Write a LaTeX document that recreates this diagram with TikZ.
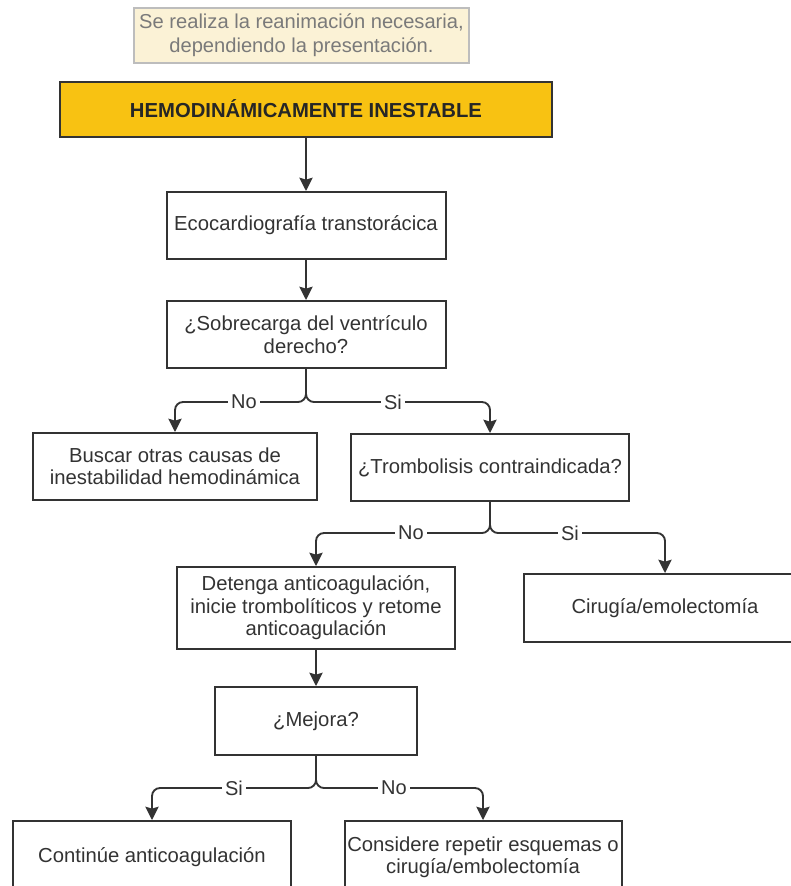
\documentclass[tikz,border=0pt]{standalone}
\usepackage{fontspec}
\setmainfont{Liberation Sans}
\usetikzlibrary{arrows.meta}
\definecolor{ink}{HTML}{333333}
\definecolor{notefill}{HTML}{FBF2D6}
\definecolor{noteline}{HTML}{BDBDBD}
\definecolor{notetext}{HTML}{7A7A7A}
\definecolor{gold}{HTML}{F8C212}
\begin{document}
\begin{tikzpicture}[x=0.75pt,y=-0.75pt,
  bx/.style 2 args={draw=ink, line width=1.5pt, fill=white, text=ink,
     minimum width=#1*0.75pt, minimum height=#2*0.75pt, inner sep=1pt,
     align=center, font=\fontsize{15.2pt}{16.8pt}\selectfont},
  conn/.style={draw=ink, line width=1.4pt, rounded corners=6pt,
     -{Stealth[length=10pt,width=10pt,inset=1.5pt]}},
  lbl/.style={fill=white, text=ink, inner sep=2.5pt,
     font=\fontsize{15pt}{17pt}\selectfont}]
\useasboundingbox (0,0) rectangle (791,886);
\clip (0,0) rectangle (791,886);

\node[bx={335}{55}, draw=noteline, fill=notefill, text=notetext,
      line width=1.2pt, font=\fontsize{15.1pt}{18pt}\selectfont]
  (note) at (301.5,35.5) {Se realiza la reanimación necesaria,\\dependiendo la presentación.};
\node[bx={492}{55}, fill=gold, text=black!85,
      font=\fontsize{15.2pt}{17pt}\selectfont\bfseries]
  (title) at (306,109) {HEMODINÁMICAMENTE INESTABLE};
\node[bx={279}{67}] (eco) at (306,225.5) {Ecocardiografía transtorácica};
\node[bx={279}{67}] (sob) at (306,334.5) {¿Sobrecarga del ventrículo\\derecho?};
\node[bx={284}{67}] (bus) at (175,466.5) {Buscar otras causas de\\inestabilidad hemodinámica};
\node[bx={278}{67}] (tro) at (490,467.5) {¿Trombolisis contraindicada?};
\node[bx={278}{82}] (det) at (316,608) {Detenga anticoagulación,\\inicie trombolíticos y retome\\anticoagulación};
\node[bx={282}{68}] (cir) at (665,608) {Cirugía/emolectomía};
\node[bx={202}{68}] (mej) at (316,721) {¿Mejora?};
\node[bx={278}{72}] (con) at (152,857) {Continúe anticoagulación};
\node[bx={277}{72}] (cons) at (483,857) {Considere repetir esquemas o\\cirugía/embolectomía};

\coordinate (j1) at (306,402);
\coordinate (j2) at (490,533);
\coordinate (j3) at (316,788);

\draw[conn] (title.south) -- (eco.north);
\draw[conn] (eco.south) -- (sob.north);
\draw[conn] (sob.south) -- (j1) -| (bus.north);
\draw[conn] (sob.south) -- (j1) -| (tro.north);
\draw[conn] (tro.south) -- (j2) -| (det.north);
\draw[conn] (tro.south) -- (j2) -| (cir.north);
\draw[conn] (det.south) -- (mej.north);
\draw[conn] (mej.south) -- (j3) -| (con.north);
\draw[conn] (mej.south) -- (j3) -| (cons.north);

\node[lbl] (l1) at (244,402) {No};
\node[lbl] (l2) at (393,402) {Si};
\node[lbl] (l3) at (411,533) {No};
\node[lbl] (l4) at (570,533) {Si};
\node[lbl] (l5) at (234,788) {Si};
\node[lbl] (l6) at (394,788) {No};
\end{tikzpicture}
\end{document}
